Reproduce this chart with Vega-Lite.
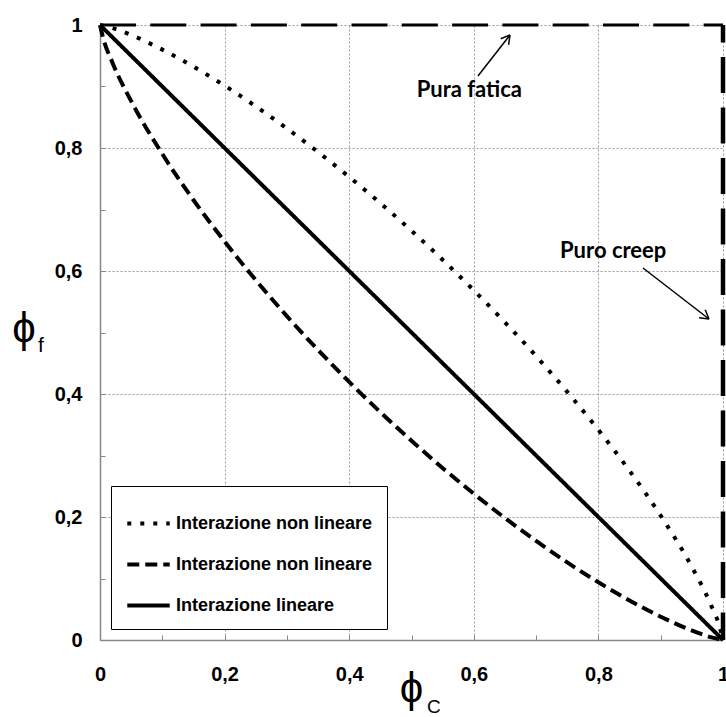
{
  "$schema": "https://vega.github.io/schema/vega-lite/v6.json",
  "width": 623,
  "height": 615,
  "autosize": "none",
  "padding": {"left": 100, "top": 25, "right": 3, "bottom": 77},
  "background": "white",
  "config": {
    "view": {"stroke": null},
    "axis": {
      "labelFont": "Liberation Sans",
      "labelFontWeight": "bold",
      "labelFontSize": 20,
      "labelColor": "black",
      "labelFlush": false,
      "labelOverlap": false,
      "domainColor": "#888888",
      "domainWidth": 1.5,
      "tickColor": "#888888",
      "tickWidth": 1,
      "tickSize": -5,
      "grid": true,
      "gridColor": "#9a9a9a",
      "gridDash": [2, 2],
      "gridWidth": 1,
      "title": null
    }
  },
  "datasets": {
    "curves": [
      {"serie": "A", "x": 0, "y": 1},
      {"serie": "A", "x": 0.02, "y": 0.995},
      {"serie": "A", "x": 0.05, "y": 0.9837},
      {"serie": "A", "x": 0.1, "y": 0.96},
      {"serie": "A", "x": 0.15, "y": 0.9323},
      {"serie": "A", "x": 0.2, "y": 0.9014},
      {"serie": "A", "x": 0.3, "y": 0.8317},
      {"serie": "A", "x": 0.4, "y": 0.7529},
      {"serie": "A", "x": 0.5, "y": 0.6654},
      {"serie": "A", "x": 0.6, "y": 0.5685},
      {"serie": "A", "x": 0.7, "y": 0.4616},
      {"serie": "A", "x": 0.8, "y": 0.3416},
      {"serie": "A", "x": 0.85, "y": 0.2751},
      {"serie": "A", "x": 0.9, "y": 0.2022},
      {"serie": "A", "x": 0.95, "y": 0.1188},
      {"serie": "A", "x": 0.98, "y": 0.0586},
      {"serie": "A", "x": 0.995, "y": 0.0201},
      {"serie": "A", "x": 1, "y": 0},
      {"serie": "B", "x": 0, "y": 1},
      {"serie": "B", "x": 0.005, "y": 0.979},
      {"serie": "B", "x": 0.02, "y": 0.9388},
      {"serie": "B", "x": 0.05, "y": 0.8763},
      {"serie": "B", "x": 0.1, "y": 0.7903},
      {"serie": "B", "x": 0.15, "y": 0.7155},
      {"serie": "B", "x": 0.2, "y": 0.648},
      {"serie": "B", "x": 0.3, "y": 0.5266},
      {"serie": "B", "x": 0.4, "y": 0.4197},
      {"serie": "B", "x": 0.5, "y": 0.3239},
      {"serie": "B", "x": 0.6, "y": 0.2378},
      {"serie": "B", "x": 0.7, "y": 0.1611},
      {"serie": "B", "x": 0.8, "y": 0.0938},
      {"serie": "B", "x": 0.9, "y": 0.0379},
      {"serie": "B", "x": 0.95, "y": 0.0154},
      {"serie": "B", "x": 0.98, "y": 0.0047},
      {"serie": "B", "x": 1, "y": 0},
      {"serie": "C", "x": 0, "y": 1},
      {"serie": "C", "x": 1, "y": 0}
    ],
    "arrows": [
      {"x": 0.6067, "y": 0.9171, "x2": 0.6581, "y2": 0.9837},
      {"x": 0.6432, "y": 0.9777, "x2": 0.6581, "y2": 0.9837},
      {"x": 0.6558, "y": 0.9676, "x2": 0.6581, "y2": 0.9837},
      {"x": 0.8716, "y": 0.6049, "x2": 0.9775, "y2": 0.522},
      {"x": 0.9714, "y": 0.5369, "x2": 0.9775, "y2": 0.522},
      {"x": 0.9616, "y": 0.5241, "x2": 0.9775, "y2": 0.522}
    ]
  },
  "layer": [
    {
      "data": {"name": "curves"},
      "mark": {"type": "line", "color": "black", "strokeWidth": 4, "interpolate": "monotone"},
      "encoding": {
        "x": {
          "field": "x", "type": "quantitative",
          "scale": {"domain": [0, 1], "nice": false, "zero": false},
          "axis": {
            "values": [0,0.05,0.1,0.15,0.2,0.25,0.3,0.35,0.4,0.45,0.5,0.55,0.6,0.65,0.7,0.75,0.8,0.85,0.9,0.95,1],
            "labelExpr": "abs(datum.value*5 - round(datum.value*5)) < 0.001 ? replace(format(datum.value, '~g'), '.', ',') : ''",
            "labelPadding": 29,
            "gridOpacity": {"condition": {"test": "abs(datum.value*5 - round(datum.value*5)) < 0.001 && datum.value > 0", "value": 1}, "value": 0}
          }
        },
        "y": {
          "field": "y", "type": "quantitative",
          "scale": {"domain": [0, 1], "nice": false, "zero": false},
          "axis": {
            "values": [0,0.05,0.1,0.15,0.2,0.25,0.3,0.35,0.4,0.45,0.5,0.55,0.6,0.65,0.7,0.75,0.8,0.85,0.9,0.95,1],
            "labelExpr": "abs(datum.value*5 - round(datum.value*5)) < 0.001 ? replace(format(datum.value, '~g'), '.', ',') : ''",
            "labelPadding": 23,
            "gridOpacity": {"condition": {"test": "abs(datum.value*5 - round(datum.value*5)) < 0.001 && datum.value > 0", "value": 1}, "value": 0}
          }
        },
        "order": {"field": "x", "type": "quantitative"},
        "strokeDash": {
          "field": "serie", "type": "nominal",
          "scale": {"domain": ["A", "B", "C"], "range": [[4, 9], [12, 6], [1, 0]]},
          "legend": {
            "title": null,
            "orient": "none",
            "legendX": 11,
            "legendY": 461,
            "direction": "vertical",
            "symbolType": "stroke",
            "symbolSize": 1800,
            "symbolStrokeWidth": 4,
            "symbolStrokeColor": "black",
            "labelFont": "Liberation Sans",
            "labelFontWeight": "bold",
            "labelFontSize": 18,
            "labelColor": "black",
            "labelOffset": 4,
            "labelLimit": 400,
            "rowPadding": 8,
            "padding": 14,
            "strokeColor": "black",
            "fillColor": "white",
            "labelExpr": "datum.label == 'C' ? 'Interazione lineare' : 'Interazione non lineare'"
          }
        }
      }
    },
    {
      "data": {"values": [{"x": 0, "y": 1}, {"x": 1, "y": 1}]},
      "mark": {"type": "line", "color": "black", "strokeWidth": 3, "strokeDash": [36, 14.3]},
      "encoding": {
        "x": {"field": "x", "type": "quantitative"},
        "y": {"field": "y", "type": "quantitative"}
      }
    },
    {
      "data": {"values": [{"x": 1, "y": 1, "o": 0}, {"x": 1, "y": 0, "o": 1}]},
      "mark": {"type": "line", "color": "black", "strokeWidth": 4.5, "strokeDash": [36, 14.5], "strokeDashOffset": 18.5},
      "encoding": {
        "x": {"field": "x", "type": "quantitative"},
        "y": {"field": "y", "type": "quantitative"},
        "order": {"field": "o", "type": "quantitative"}
      }
    },
    {
      "data": {"name": "arrows"},
      "mark": {"type": "rule", "color": "black", "strokeWidth": 1.5},
      "encoding": {
        "x": {"field": "x", "type": "quantitative"},
        "y": {"field": "y", "type": "quantitative"},
        "x2": {"field": "x2"},
        "y2": {"field": "y2"}
      }
    },
    {
      "data": {"values": [{"t": "Pura fatica", "x": 0.6774, "y": 0.8829}]},
      "mark": {"type": "text", "font": "Lato", "fontWeight": "bold", "fontSize": 22, "color": "black", "baseline": "alphabetic", "align": "right"},
      "encoding": {
        "x": {"field": "x", "type": "quantitative"},
        "y": {"field": "y", "type": "quantitative"},
        "text": {"field": "t"}
      }
    },
    {
      "data": {"values": [{"t": "Puro creep", "x": 0.7384, "y": 0.6211}]},
      "mark": {"type": "text", "font": "Lato", "fontWeight": "bold", "fontSize": 22, "color": "black", "baseline": "alphabetic", "align": "left"},
      "encoding": {
        "x": {"field": "x", "type": "quantitative"},
        "y": {"field": "y", "type": "quantitative"},
        "text": {"field": "t"}
      }
    },
    {
      "data": {"values": [
        {"t": "ϕ", "x": 0.5, "y": -0.1008, "s": 42},
        {"t": "C", "x": 0.536, "y": -0.1187, "s": 19},
        {"t": "ϕ", "x": -0.122, "y": 0.4846, "s": 42},
        {"t": "f", "x": -0.0947, "y": 0.4683, "s": 21}
      ]},
      "mark": {"type": "text", "font": "Liberation Sans", "color": "black", "baseline": "alphabetic", "align": "center"},
      "encoding": {
        "x": {"field": "x", "type": "quantitative"},
        "y": {"field": "y", "type": "quantitative"},
        "text": {"field": "t"},
        "size": {"field": "s", "type": "quantitative", "scale": null}
      }
    }
  ]
}
